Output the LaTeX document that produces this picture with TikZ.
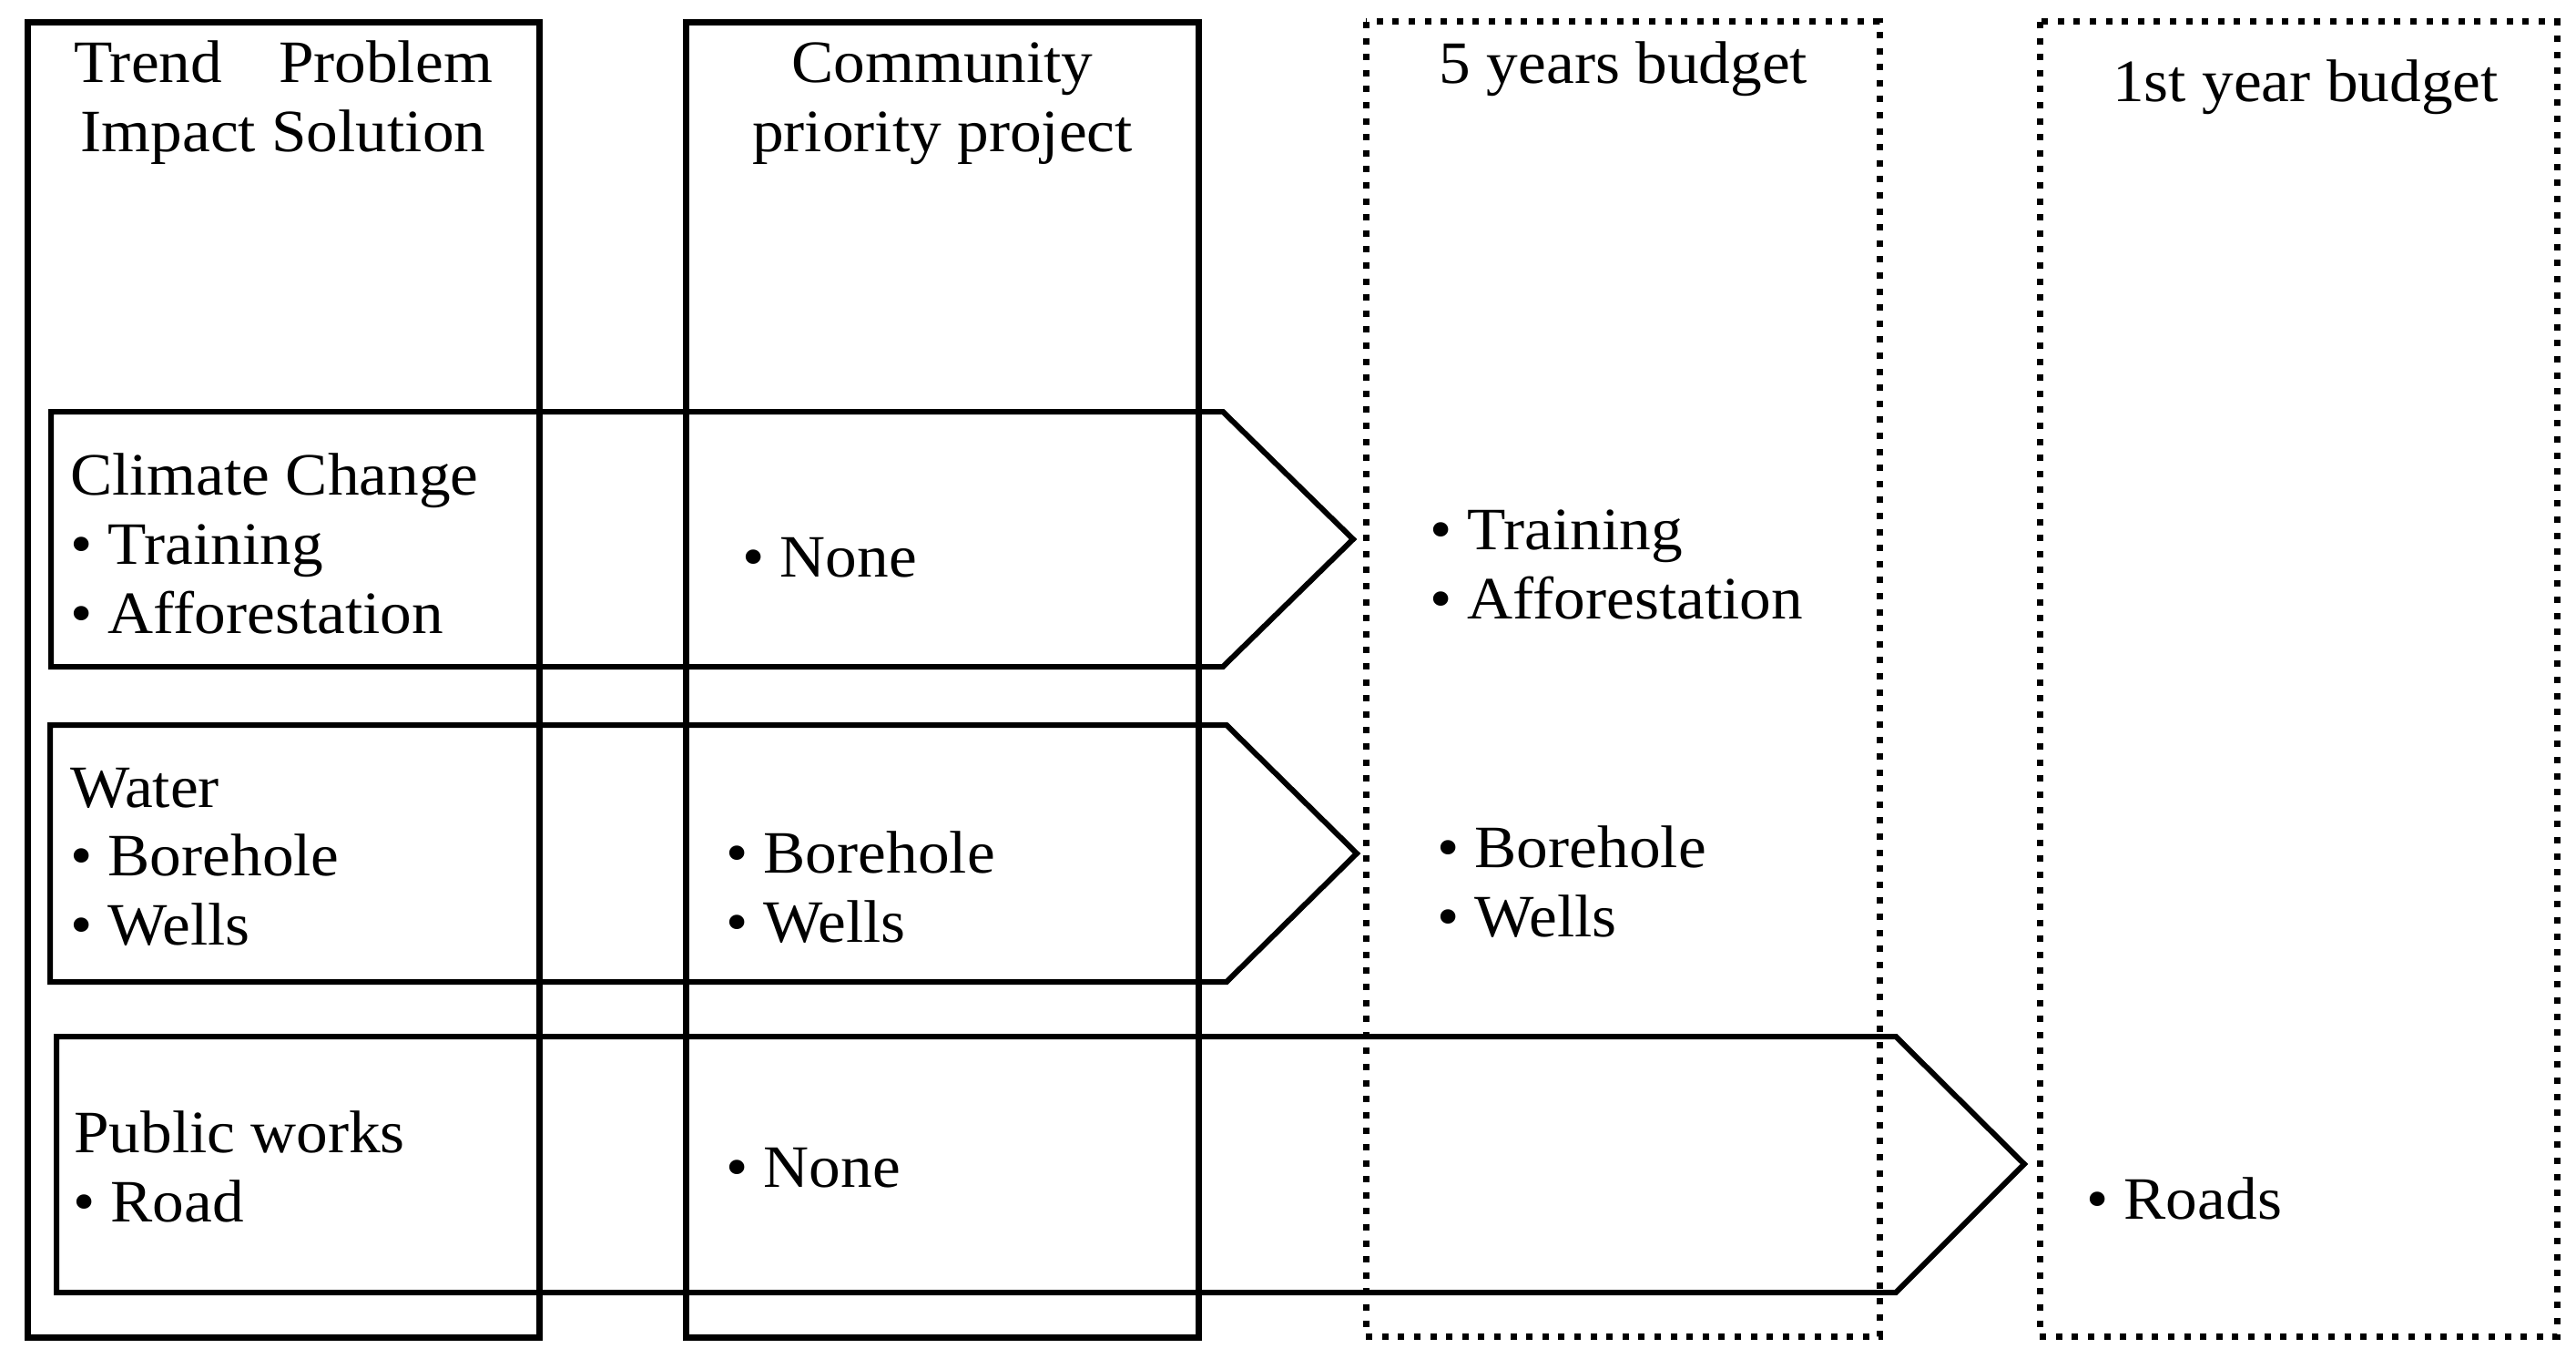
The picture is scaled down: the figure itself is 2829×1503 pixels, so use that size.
\documentclass[tikz,border=0pt]{standalone}
\usepackage{fontspec}
\setmainfont{Liberation Serif}[FakeStretch=1.05]
\tikzset{
  colbox/.style={draw=black, line width=7pt},
  dotbox/.style={draw=black, line width=7pt, dash pattern=on 7pt off 10.6pt},
  arrowbox/.style={draw=black, line width=6pt, line join=miter},
  lbl/.style={anchor=base west, inner sep=0pt, font=\fontsize{66}{76}\selectfont},
  hdr/.style={anchor=base, inner sep=0pt, font=\fontsize{66}{76}\selectfont}
}
\begin{document}
\begin{tikzpicture}[x=1pt,y=-1pt]
\useasboundingbox (0,0) rectangle (2829,1503);
% columns
\draw[colbox] (30,25) rectangle (592,1468);
\draw[colbox] (753,25) rectangle (1316,1468);
\draw[dotbox] (1500,24) rectangle (2064,1467);
\draw[dotbox] (2240,24) rectangle (2808,1467);
% arrow boxes
\draw[arrowbox] (56,452) -- (1343,452) -- (1486,592) -- (1343,732) -- (56,732) -- cycle;
\draw[arrowbox] (55,796) -- (1347,796) -- (1490,937) -- (1347,1078) -- (55,1078) -- cycle;
\draw[arrowbox] (62,1138) -- (2082,1138) -- (2223,1278) -- (2082,1419) -- (62,1419) -- cycle;
% headers
\node[hdr] (h1a) at (311,91) {Trend\hspace{62pt}Problem};
\node[hdr] (h1b) at (311,167) {Impact Solution};
\node[hdr] (h2a) at (1035,91) {Community};
\node[hdr] (h2b) at (1035,167) {priority project};
\node[hdr] (h3) at (1783,92) {5 years budget};
\node[hdr] (h4) at (2532,112) {1st year budget};
% row 1
\node[lbl] (r1a) at (77,543) {Climate Change};
\node[lbl] (r1b) at (77,619) {\textbullet{} Training};
\node[lbl] (r1c) at (77,695) {\textbullet{} Afforestation};
\node[lbl] (r1d) at (815,633) {\textbullet{} None};
\node[lbl] (r1e) at (1570,603) {\textbullet{} Training};
\node[lbl] (r1f) at (1570,679) {\textbullet{} Afforestation};
% row 2
\node[lbl] (r2a) at (77,886) {Water};
\node[lbl] (r2b) at (77,961) {\textbullet{} Borehole};
\node[lbl] (r2c) at (77,1037) {\textbullet{} Wells};
\node[lbl] (r2d) at (797,958) {\textbullet{} Borehole};
\node[lbl] (r2e) at (797,1034) {\textbullet{} Wells};
\node[lbl] (r2f) at (1578,952) {\textbullet{} Borehole};
\node[lbl] (r2g) at (1578,1028) {\textbullet{} Wells};
% row 3
\node[lbl] (r3a) at (81,1265) {Public works};
\node[lbl] (r3b) at (80,1341) {\textbullet{} Road};
\node[lbl] (r3c) at (797,1303) {\textbullet{} None};
\node[lbl] (r3d) at (2291,1338) {\textbullet{} Roads};
\end{tikzpicture}
\end{document}
